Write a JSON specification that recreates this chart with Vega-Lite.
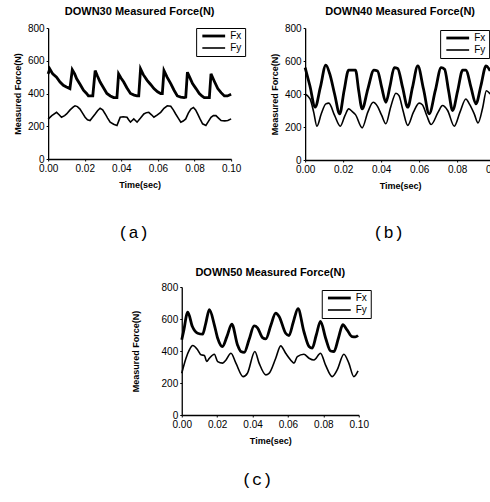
{
  "$schema": "https://vega.github.io/schema/vega-lite/v6.json",
  "background": "white",
  "padding": {"left": 13, "top": 6, "right": 0, "bottom": 0},
  "config": {
    "view": {"stroke": null},
    "font": "Liberation Sans",
    "axis": {"domainColor": "black", "tickColor": "black", "labelColor": "black", "titleColor": "black", "grid": false, "tickSize": 2, "labelPadding": 2, "labelFontSize": 10, "labelFlush": false, "titleFontSize": 9, "titleFontWeight": "bold", "domainWidth": 1.3, "tickWidth": 1},
    "axisY": {"titlePadding": 5},
    "axisX": {"titlePadding": 7},
    "title": {"fontSize": 11, "fontWeight": "bold", "color": "black", "offset": 6},
    "legend": {"symbolType": "M-0.6,0H7", "symbolSize": 36, "strokeColor": "black", "fillColor": "white", "padding": 3, "labelFontSize": 10, "rowPadding": 1, "labelOffset": 21, "symbolStrokeColor": "black", "cornerRadius": 0, "labelColor": "black"}
  },
  "datasets": {
    "a": [
      {"series": "Fx", "t": 0.0000, "f": 520}, {"series": "Fx", "t": 0.0009, "f": 550}, {"series": "Fx", "t": 0.0025, "f": 520}, {"series": "Fx", "t": 0.0046, "f": 500}, {"series": "Fx", "t": 0.0065, "f": 470}, {"series": "Fx", "t": 0.0083, "f": 450}, {"series": "Fx", "t": 0.0100, "f": 440}, {"series": "Fx", "t": 0.0119, "f": 430}, {"series": "Fx", "t": 0.0132, "f": 545}, {"series": "Fx", "t": 0.0145, "f": 520}, {"series": "Fx", "t": 0.0156, "f": 490}, {"series": "Fx", "t": 0.0175, "f": 455}, {"series": "Fx", "t": 0.0193, "f": 420}, {"series": "Fx", "t": 0.0210, "f": 400}, {"series": "Fx", "t": 0.0220, "f": 385}, {"series": "Fx", "t": 0.0244, "f": 385}, {"series": "Fx", "t": 0.0257, "f": 540}, {"series": "Fx", "t": 0.0270, "f": 505}, {"series": "Fx", "t": 0.0284, "f": 470}, {"series": "Fx", "t": 0.0300, "f": 440}, {"series": "Fx", "t": 0.0321, "f": 400}, {"series": "Fx", "t": 0.0340, "f": 385}, {"series": "Fx", "t": 0.0358, "f": 375}, {"series": "Fx", "t": 0.0376, "f": 375}, {"series": "Fx", "t": 0.0385, "f": 520}, {"series": "Fx", "t": 0.0398, "f": 495}, {"series": "Fx", "t": 0.0413, "f": 470}, {"series": "Fx", "t": 0.0430, "f": 435}, {"series": "Fx", "t": 0.0450, "f": 400}, {"series": "Fx", "t": 0.0470, "f": 390}, {"series": "Fx", "t": 0.0486, "f": 385}, {"series": "Fx", "t": 0.0495, "f": 385}, {"series": "Fx", "t": 0.0505, "f": 550}, {"series": "Fx", "t": 0.0520, "f": 515}, {"series": "Fx", "t": 0.0541, "f": 480}, {"series": "Fx", "t": 0.0560, "f": 455}, {"series": "Fx", "t": 0.0578, "f": 430}, {"series": "Fx", "t": 0.0598, "f": 410}, {"series": "Fx", "t": 0.0615, "f": 400}, {"series": "Fx", "t": 0.0624, "f": 400}, {"series": "Fx", "t": 0.0633, "f": 540}, {"series": "Fx", "t": 0.0650, "f": 500}, {"series": "Fx", "t": 0.0670, "f": 460}, {"series": "Fx", "t": 0.0688, "f": 420}, {"series": "Fx", "t": 0.0706, "f": 385}, {"series": "Fx", "t": 0.0725, "f": 378}, {"series": "Fx", "t": 0.0743, "f": 375}, {"series": "Fx", "t": 0.0752, "f": 378}, {"series": "Fx", "t": 0.0761, "f": 530}, {"series": "Fx", "t": 0.0775, "f": 495}, {"series": "Fx", "t": 0.0789, "f": 460}, {"series": "Fx", "t": 0.0808, "f": 430}, {"series": "Fx", "t": 0.0826, "f": 400}, {"series": "Fx", "t": 0.0840, "f": 385}, {"series": "Fx", "t": 0.0853, "f": 375}, {"series": "Fx", "t": 0.0881, "f": 375}, {"series": "Fx", "t": 0.0890, "f": 520}, {"series": "Fx", "t": 0.0908, "f": 475}, {"series": "Fx", "t": 0.0927, "f": 430}, {"series": "Fx", "t": 0.0945, "f": 405}, {"series": "Fx", "t": 0.0963, "f": 385}, {"series": "Fx", "t": 0.0980, "f": 385}, {"series": "Fx", "t": 0.1000, "f": 395},
      {"series": "Fy", "t": 0.0000, "f": 244}, {"series": "Fy", "t": 0.0020, "f": 265}, {"series": "Fy", "t": 0.0046, "f": 285}, {"series": "Fy", "t": 0.0060, "f": 270}, {"series": "Fy", "t": 0.0073, "f": 255}, {"series": "Fy", "t": 0.0090, "f": 265}, {"series": "Fy", "t": 0.0101, "f": 275}, {"series": "Fy", "t": 0.0120, "f": 300}, {"series": "Fy", "t": 0.0138, "f": 318}, {"series": "Fy", "t": 0.0147, "f": 325}, {"series": "Fy", "t": 0.0160, "f": 320}, {"series": "Fy", "t": 0.0174, "f": 305}, {"series": "Fy", "t": 0.0188, "f": 280}, {"series": "Fy", "t": 0.0202, "f": 255}, {"series": "Fy", "t": 0.0215, "f": 240}, {"series": "Fy", "t": 0.0229, "f": 235}, {"series": "Fy", "t": 0.0243, "f": 255}, {"series": "Fy", "t": 0.0257, "f": 275}, {"series": "Fy", "t": 0.0270, "f": 295}, {"series": "Fy", "t": 0.0284, "f": 310}, {"series": "Fy", "t": 0.0298, "f": 300}, {"series": "Fy", "t": 0.0312, "f": 275}, {"series": "Fy", "t": 0.0325, "f": 250}, {"series": "Fy", "t": 0.0339, "f": 225}, {"series": "Fy", "t": 0.0358, "f": 212}, {"series": "Fy", "t": 0.0376, "f": 205}, {"series": "Fy", "t": 0.0385, "f": 230}, {"series": "Fy", "t": 0.0394, "f": 255}, {"series": "Fy", "t": 0.0410, "f": 258}, {"series": "Fy", "t": 0.0431, "f": 255}, {"series": "Fy", "t": 0.0440, "f": 240}, {"series": "Fy", "t": 0.0450, "f": 225}, {"series": "Fy", "t": 0.0459, "f": 235}, {"series": "Fy", "t": 0.0468, "f": 245}, {"series": "Fy", "t": 0.0477, "f": 235}, {"series": "Fy", "t": 0.0486, "f": 225}, {"series": "Fy", "t": 0.0505, "f": 250}, {"series": "Fy", "t": 0.0523, "f": 275}, {"series": "Fy", "t": 0.0537, "f": 283}, {"series": "Fy", "t": 0.0550, "f": 285}, {"series": "Fy", "t": 0.0565, "f": 270}, {"series": "Fy", "t": 0.0578, "f": 255}, {"series": "Fy", "t": 0.0597, "f": 270}, {"series": "Fy", "t": 0.0615, "f": 285}, {"series": "Fy", "t": 0.0633, "f": 310}, {"series": "Fy", "t": 0.0651, "f": 325}, {"series": "Fy", "t": 0.0670, "f": 322}, {"series": "Fy", "t": 0.0684, "f": 300}, {"series": "Fy", "t": 0.0697, "f": 275}, {"series": "Fy", "t": 0.0711, "f": 250}, {"series": "Fy", "t": 0.0725, "f": 225}, {"series": "Fy", "t": 0.0738, "f": 232}, {"series": "Fy", "t": 0.0752, "f": 245}, {"series": "Fy", "t": 0.0766, "f": 280}, {"series": "Fy", "t": 0.0780, "f": 305}, {"series": "Fy", "t": 0.0794, "f": 315}, {"series": "Fy", "t": 0.0806, "f": 300}, {"series": "Fy", "t": 0.0817, "f": 275}, {"series": "Fy", "t": 0.0830, "f": 245}, {"series": "Fy", "t": 0.0844, "f": 215}, {"series": "Fy", "t": 0.0862, "f": 205}, {"series": "Fy", "t": 0.0876, "f": 230}, {"series": "Fy", "t": 0.0890, "f": 255}, {"series": "Fy", "t": 0.0903, "f": 265}, {"series": "Fy", "t": 0.0917, "f": 265}, {"series": "Fy", "t": 0.0931, "f": 250}, {"series": "Fy", "t": 0.0945, "f": 235}, {"series": "Fy", "t": 0.0965, "f": 233}, {"series": "Fy", "t": 0.0982, "f": 235}, {"series": "Fy", "t": 0.1000, "f": 245}
    ],
    "b": [
      {"series": "Fx", "t": 0.0000, "f": 560}, {"series": "Fx", "t": 0.0025, "f": 450}, {"series": "Fx", "t": 0.0053, "f": 320}, {"series": "Fx", "t": 0.0080, "f": 440}, {"series": "Fx", "t": 0.0109, "f": 575}, {"series": "Fx", "t": 0.0130, "f": 520}, {"series": "Fx", "t": 0.0155, "f": 400}, {"series": "Fx", "t": 0.0182, "f": 280}, {"series": "Fx", "t": 0.0205, "f": 420}, {"series": "Fx", "t": 0.0229, "f": 545}, {"series": "Fx", "t": 0.0265, "f": 545}, {"series": "Fx", "t": 0.0282, "f": 420}, {"series": "Fx", "t": 0.0300, "f": 310}, {"series": "Fx", "t": 0.0330, "f": 430}, {"series": "Fx", "t": 0.0362, "f": 545}, {"series": "Fx", "t": 0.0381, "f": 540}, {"series": "Fx", "t": 0.0403, "f": 440}, {"series": "Fx", "t": 0.0425, "f": 350}, {"series": "Fx", "t": 0.0447, "f": 450}, {"series": "Fx", "t": 0.0469, "f": 560}, {"series": "Fx", "t": 0.0487, "f": 555}, {"series": "Fx", "t": 0.0513, "f": 440}, {"series": "Fx", "t": 0.0540, "f": 320}, {"series": "Fx", "t": 0.0565, "f": 440}, {"series": "Fx", "t": 0.0593, "f": 570}, {"series": "Fx", "t": 0.0623, "f": 430}, {"series": "Fx", "t": 0.0653, "f": 280}, {"series": "Fx", "t": 0.0685, "f": 420}, {"series": "Fx", "t": 0.0716, "f": 560}, {"series": "Fx", "t": 0.0734, "f": 550}, {"series": "Fx", "t": 0.0755, "f": 420}, {"series": "Fx", "t": 0.0776, "f": 300}, {"series": "Fx", "t": 0.0803, "f": 420}, {"series": "Fx", "t": 0.0829, "f": 545}, {"series": "Fx", "t": 0.0847, "f": 545}, {"series": "Fx", "t": 0.0873, "f": 440}, {"series": "Fx", "t": 0.0899, "f": 340}, {"series": "Fx", "t": 0.0925, "f": 450}, {"series": "Fx", "t": 0.0952, "f": 570}, {"series": "Fx", "t": 0.0974, "f": 540},
      {"series": "Fy", "t": 0.0000, "f": 400}, {"series": "Fy", "t": 0.0026, "f": 370}, {"series": "Fy", "t": 0.0045, "f": 290}, {"series": "Fy", "t": 0.0062, "f": 205}, {"series": "Fy", "t": 0.0085, "f": 280}, {"series": "Fy", "t": 0.0109, "f": 340}, {"series": "Fy", "t": 0.0125, "f": 345}, {"series": "Fy", "t": 0.0155, "f": 270}, {"series": "Fy", "t": 0.0185, "f": 205}, {"series": "Fy", "t": 0.0210, "f": 270}, {"series": "Fy", "t": 0.0229, "f": 310}, {"series": "Fy", "t": 0.0247, "f": 295}, {"series": "Fy", "t": 0.0265, "f": 275}, {"series": "Fy", "t": 0.0300, "f": 195}, {"series": "Fy", "t": 0.0330, "f": 290}, {"series": "Fy", "t": 0.0358, "f": 350}, {"series": "Fy", "t": 0.0381, "f": 325}, {"series": "Fy", "t": 0.0403, "f": 270}, {"series": "Fy", "t": 0.0425, "f": 220}, {"series": "Fy", "t": 0.0450, "f": 320}, {"series": "Fy", "t": 0.0478, "f": 405}, {"series": "Fy", "t": 0.0494, "f": 390}, {"series": "Fy", "t": 0.0515, "f": 300}, {"series": "Fy", "t": 0.0540, "f": 210}, {"series": "Fy", "t": 0.0570, "f": 290}, {"series": "Fy", "t": 0.0600, "f": 345}, {"series": "Fy", "t": 0.0617, "f": 335}, {"series": "Fy", "t": 0.0640, "f": 270}, {"series": "Fy", "t": 0.0663, "f": 215}, {"series": "Fy", "t": 0.0700, "f": 290}, {"series": "Fy", "t": 0.0723, "f": 330}, {"series": "Fy", "t": 0.0750, "f": 300}, {"series": "Fy", "t": 0.0785, "f": 205}, {"series": "Fy", "t": 0.0815, "f": 290}, {"series": "Fy", "t": 0.0846, "f": 370}, {"series": "Fy", "t": 0.0864, "f": 340}, {"series": "Fy", "t": 0.0890, "f": 280}, {"series": "Fy", "t": 0.0910, "f": 225}, {"series": "Fy", "t": 0.0935, "f": 320}, {"series": "Fy", "t": 0.0954, "f": 420}, {"series": "Fy", "t": 0.0974, "f": 400}
    ],
    "c": [
      {"series": "Fx", "t": 0.0000, "f": 470}, {"series": "Fx", "t": 0.0010, "f": 520}, {"series": "Fx", "t": 0.0034, "f": 643}, {"series": "Fx", "t": 0.0060, "f": 553}, {"series": "Fx", "t": 0.0090, "f": 511}, {"series": "Fx", "t": 0.0118, "f": 505}, {"series": "Fx", "t": 0.0135, "f": 570}, {"series": "Fx", "t": 0.0156, "f": 658}, {"series": "Fx", "t": 0.0184, "f": 564}, {"series": "Fx", "t": 0.0203, "f": 480}, {"series": "Fx", "t": 0.0230, "f": 428}, {"series": "Fx", "t": 0.0255, "f": 490}, {"series": "Fx", "t": 0.0283, "f": 568}, {"series": "Fx", "t": 0.0315, "f": 438}, {"series": "Fx", "t": 0.0334, "f": 397}, {"series": "Fx", "t": 0.0353, "f": 392}, {"series": "Fx", "t": 0.0380, "f": 470}, {"series": "Fx", "t": 0.0409, "f": 557}, {"series": "Fx", "t": 0.0428, "f": 545}, {"series": "Fx", "t": 0.0456, "f": 484}, {"series": "Fx", "t": 0.0475, "f": 476}, {"series": "Fx", "t": 0.0503, "f": 560}, {"series": "Fx", "t": 0.0531, "f": 637}, {"series": "Fx", "t": 0.0550, "f": 616}, {"series": "Fx", "t": 0.0587, "f": 511}, {"series": "Fx", "t": 0.0606, "f": 497}, {"series": "Fx", "t": 0.0630, "f": 580}, {"series": "Fx", "t": 0.0657, "f": 664}, {"series": "Fx", "t": 0.0690, "f": 522}, {"series": "Fx", "t": 0.0719, "f": 428}, {"series": "Fx", "t": 0.0737, "f": 418}, {"series": "Fx", "t": 0.0760, "f": 500}, {"series": "Fx", "t": 0.0784, "f": 585}, {"series": "Fx", "t": 0.0813, "f": 480}, {"series": "Fx", "t": 0.0841, "f": 400}, {"series": "Fx", "t": 0.0860, "f": 397}, {"series": "Fx", "t": 0.0885, "f": 480}, {"series": "Fx", "t": 0.0910, "f": 564}, {"series": "Fx", "t": 0.0934, "f": 532}, {"series": "Fx", "t": 0.0962, "f": 490}, {"series": "Fx", "t": 0.0981, "f": 488}, {"series": "Fx", "t": 0.0996, "f": 497},
      {"series": "Fy", "t": 0.0000, "f": 261}, {"series": "Fy", "t": 0.0024, "f": 355}, {"series": "Fy", "t": 0.0043, "f": 407}, {"series": "Fy", "t": 0.0062, "f": 434}, {"series": "Fy", "t": 0.0090, "f": 407}, {"series": "Fy", "t": 0.0109, "f": 376}, {"series": "Fy", "t": 0.0128, "f": 372}, {"series": "Fy", "t": 0.0141, "f": 334}, {"series": "Fy", "t": 0.0156, "f": 355}, {"series": "Fy", "t": 0.0184, "f": 380}, {"series": "Fy", "t": 0.0203, "f": 334}, {"series": "Fy", "t": 0.0231, "f": 324}, {"series": "Fy", "t": 0.0250, "f": 344}, {"series": "Fy", "t": 0.0278, "f": 386}, {"series": "Fy", "t": 0.0306, "f": 324}, {"series": "Fy", "t": 0.0347, "f": 240}, {"series": "Fy", "t": 0.0371, "f": 261}, {"series": "Fy", "t": 0.0413, "f": 397}, {"series": "Fy", "t": 0.0437, "f": 324}, {"series": "Fy", "t": 0.0475, "f": 251}, {"series": "Fy", "t": 0.0493, "f": 260}, {"series": "Fy", "t": 0.0531, "f": 355}, {"series": "Fy", "t": 0.0559, "f": 432}, {"series": "Fy", "t": 0.0587, "f": 386}, {"series": "Fy", "t": 0.0615, "f": 344}, {"series": "Fy", "t": 0.0634, "f": 324}, {"series": "Fy", "t": 0.0653, "f": 365}, {"series": "Fy", "t": 0.0690, "f": 380}, {"series": "Fy", "t": 0.0719, "f": 355}, {"series": "Fy", "t": 0.0747, "f": 344}, {"series": "Fy", "t": 0.0784, "f": 386}, {"series": "Fy", "t": 0.0812, "f": 313}, {"series": "Fy", "t": 0.0850, "f": 240}, {"series": "Fy", "t": 0.0878, "f": 282}, {"series": "Fy", "t": 0.0916, "f": 380}, {"series": "Fy", "t": 0.0944, "f": 324}, {"series": "Fy", "t": 0.0972, "f": 240}, {"series": "Fy", "t": 0.0996, "f": 276}
    ]
  },
  "center": true,
  "spacing": 26,
  "resolve": {"scale": {"strokeWidth": "independent"}, "legend": {"strokeWidth": "independent"}},
  "vconcat": [
    {
      "spacing": 24,
      "resolve": {"scale": {"strokeWidth": "independent"}, "legend": {"strokeWidth": "independent"}},
      "hconcat": [
        {
          "title": {"text": "(a)", "orient": "bottom", "anchor": "middle", "dx": 4, "font": "Liberation Mono", "fontSize": 17, "fontWeight": "normal", "offset": 36},
          "vconcat": [
            {
              "width": 183, "height": 131,
              "title": {"text": "DOWN30 Measured Force(N)"},
              "data": {"name": "a"},
              "mark": {"type": "line", "color": "black", "interpolate": "linear"},
              "encoding": {
                "x": {"field": "t", "type": "quantitative", "scale": {"domain": [0, 0.1], "nice": false}, "axis": {"values": [0, 0.02, 0.04, 0.06, 0.08, 0.1], "format": ".2f", "title": "Time(sec)"}},
                "y": {"field": "f", "type": "quantitative", "scale": {"domain": [0, 800]}, "axis": {"values": [0, 200, 400, 600, 800], "title": "Measured Force(N)"}},
                "strokeWidth": {"field": "series", "type": "ordinal", "scale": {"domain": ["Fx", "Fy"], "range": [2.8, 1.6]}, "legend": {"orient": "none", "legendX": 148, "legendY": 0, "title": null}}
              }
            }
          ]
        },
        {
          "title": {"text": "(b)", "orient": "bottom", "anchor": "middle", "dx": 1, "font": "Liberation Mono", "fontSize": 17, "fontWeight": "normal", "offset": 35},
          "vconcat": [
            {
              "width": 190, "height": 132,
              "title": {"text": "DOWN40 Measured Force(N)"},
              "data": {"name": "b"},
              "mark": {"type": "line", "color": "black", "interpolate": "monotone"},
              "encoding": {
                "x": {"field": "t", "type": "quantitative", "scale": {"domain": [0, 0.1], "nice": false}, "axis": {"values": [0, 0.02, 0.04, 0.06, 0.08, 0.1], "format": ".2f", "title": "Time(sec)"}},
                "y": {"field": "f", "type": "quantitative", "scale": {"domain": [0, 800]}, "axis": {"values": [0, 200, 400, 600, 800], "title": "Measured Force(N)"}},
                "strokeWidth": {"field": "series", "type": "ordinal", "scale": {"domain": ["Fx", "Fy"], "range": [2.8, 1.6]}, "legend": {"orient": "none", "legendX": 135, "legendY": 2, "title": null}}
              }
            }
          ]
        }
      ]
    },
    {
      "title": {"text": "(c)", "orient": "bottom", "anchor": "middle", "dx": 6, "font": "Liberation Mono", "fontSize": 17, "fontWeight": "normal", "offset": 27},
      "vconcat": [
        {
          "width": 177, "height": 128,
          "title": {"text": "DOWN50 Measured Force(N)", "offset": 4},
          "data": {"name": "c"},
          "mark": {"type": "line", "color": "black", "interpolate": "monotone"},
          "encoding": {
            "x": {"field": "t", "type": "quantitative", "scale": {"domain": [0, 0.1], "nice": false}, "axis": {"values": [0, 0.02, 0.04, 0.06, 0.08, 0.1], "format": ".2f", "title": "Time(sec)"}},
            "y": {"field": "f", "type": "quantitative", "scale": {"domain": [0, 800]}, "axis": {"values": [0, 200, 400, 600, 800], "title": "Measured Force(N)", "titlePadding": 21}},
            "strokeWidth": {"field": "series", "type": "ordinal", "scale": {"domain": ["Fx", "Fy"], "range": [2.8, 1.6]}, "legend": {"orient": "none", "legendX": 140, "legendY": 3, "title": null}}
          }
        }
      ]
    }
  ]
}
